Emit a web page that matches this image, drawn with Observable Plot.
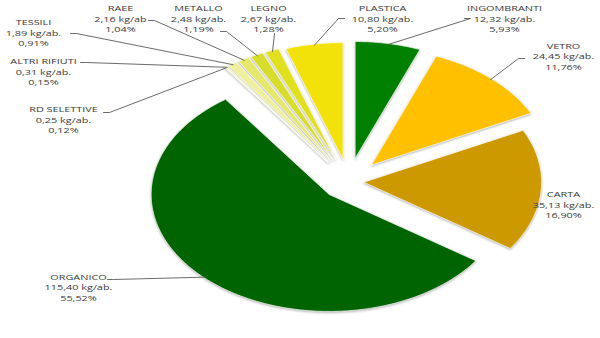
<!DOCTYPE html>
<html><head><meta charset="utf-8">
<script src="https://cdn.jsdelivr.net/npm/d3@7"></script>
<script src="https://cdn.jsdelivr.net/npm/@observablehq/plot@0.6"></script>
<style>
body{margin:0;background:#fff;}
#chart svg{display:block;}
</style>
</head><body><div id="chart"></div>
<script>
// ---- data (clockwise from 12 o'clock) ----
const categories = ["INGOMBRANTI","VETRO","CARTA","ORGANICO","RD SELETTIVE","ALTRI RIFIUTI","TESSILI","RAEE","METALLO","LEGNO","PLASTICA"];
const kgPerInhabitant = [12.32,24.45,35.13,115.40,0.25,0.31,1.89,2.16,2.48,2.67,10.80];
const percentages = [5.93,11.76,16.90,55.52,0.12,0.15,0.91,1.04,1.19,1.28,5.20];
const unitLabels = ["kg/ab.","kg/ab.","kg/ab.","kg/ab.","kg/ab.","kg/ab.","kg/ab.","kg/ab","kg/ab.","kg/ab.","kg/ab."];

// ---- styles / layout ----
const colors = ["#008000","#ffc000","#cc9900","#006400","#f3f5c6","#f0f2b4","#eef09e","#e6e86c","#d8dc2a","#e1e01c","#f2e20a"];
const explode = [0.2,0.19,0.085,0.155,0.2,0.2,0.2,0.2,0.2,0.2,0.19];
const labelPos = [[504,18],[563,55.5],[563,204],[78,286.5],[63,119],[43,71],[33,32],[120,18],[198,18],[268,18],[382,18]];
const leaderStart = [[464,18],[524,58],null,[107,279],[103,112],[80,62],[70,33],[148,20],[220,31],[274,33],[344,18]];
const leaderElbow = [6,-6,0,6,6,6,6,6,6,0,-6];
const center = [348,181], rx = 178, ry = 117;

const fmt = v => v.toFixed(2).replace(".", ",");
const rows = categories.map((name,i)=>({name, kg:kgPerInhabitant[i], pct:percentages[i], unit:unitLabels[i], i}));
const arcs = d3.pie().sort(null).value(d=>d.pct).startAngle(0).endAngle(2*Math.PI)(rows);

const pt = (c, a, f) => [c[0] + f*rx*Math.sin(a), c[1] - f*ry*Math.cos(a)];
const polys = [], leaders = [], labels = [];
arcs.forEach(a => {
  const d = a.data, i = d.i;
  const m = (a.startAngle + a.endAngle)/2;
  const tip = pt(center, m, explode[i]);
  const n = Math.max(2, Math.ceil((a.endAngle - a.startAngle)/0.01));
  const ring = [tip];
  for (let k=0;k<=n;k++) ring.push(pt(tip, a.startAngle + (a.endAngle-a.startAngle)*k/n, 1));
  ring.push(tip);
  ring.forEach(([x,y],k)=>polys.push({name:d.name,x,y,k}));
  labels.push({name:d.name, x:labelPos[i][0], y:labelPos[i][1], text:`${d.name}\n${fmt(d.kg)} ${d.unit}\n${fmt(d.pct)}%`});
  if (leaderStart[i]) {
    const end = pt(tip, m, 0.99);
    const s = leaderStart[i];
    const path = [s];
    if (leaderElbow[i]) path.push([s[0]+leaderElbow[i], s[1]]);
    path.push(end);
    path.forEach(([x,y])=>leaders.push({name:d.name,x,y}));
  }
});

const chart = Plot.plot({
  width:600, height:338, margin:0,
  x:{domain:[0,600], range:[0,600], axis:null},
  y:{domain:[0,338], range:[0,338], axis:null},
  color:{domain:categories, range:colors},
  marks:[
    Plot.line(polys, {x:"x", y:"y", z:"name", fill:"name", stroke:"white", strokeWidth:0.7, curve:"linear"}),
    Plot.line(leaders, {x:"x", y:"y", z:"name", stroke:"#5a5a5a", strokeWidth:0.9, curve:"linear"}),
    Plot.text(labels, {x:"x", y:"y", text:"text", fontSize:8, lineHeight:1.31, textAnchor:"middle", lineAnchor:"middle", fill:"#3a3a3a", fontFamily:"Open Sans"})
  ]
});
chart.style.fontFamily = "Open Sans";
document.getElementById("chart").appendChild(chart);
// widen label glyphs like the stretched original
chart.querySelectorAll("g[aria-label='text'] text").forEach(t=>{
  const tr = t.getAttribute("transform");
  if (tr) t.setAttribute("transform", tr + " scale(1.36,1)");
});
// soft shadow on slices
chart.querySelectorAll("g[aria-label='line']")[0].style.filter = "drop-shadow(0px 1px 1.2px rgba(0,0,0,0.3))";
</script>
</body></html>
